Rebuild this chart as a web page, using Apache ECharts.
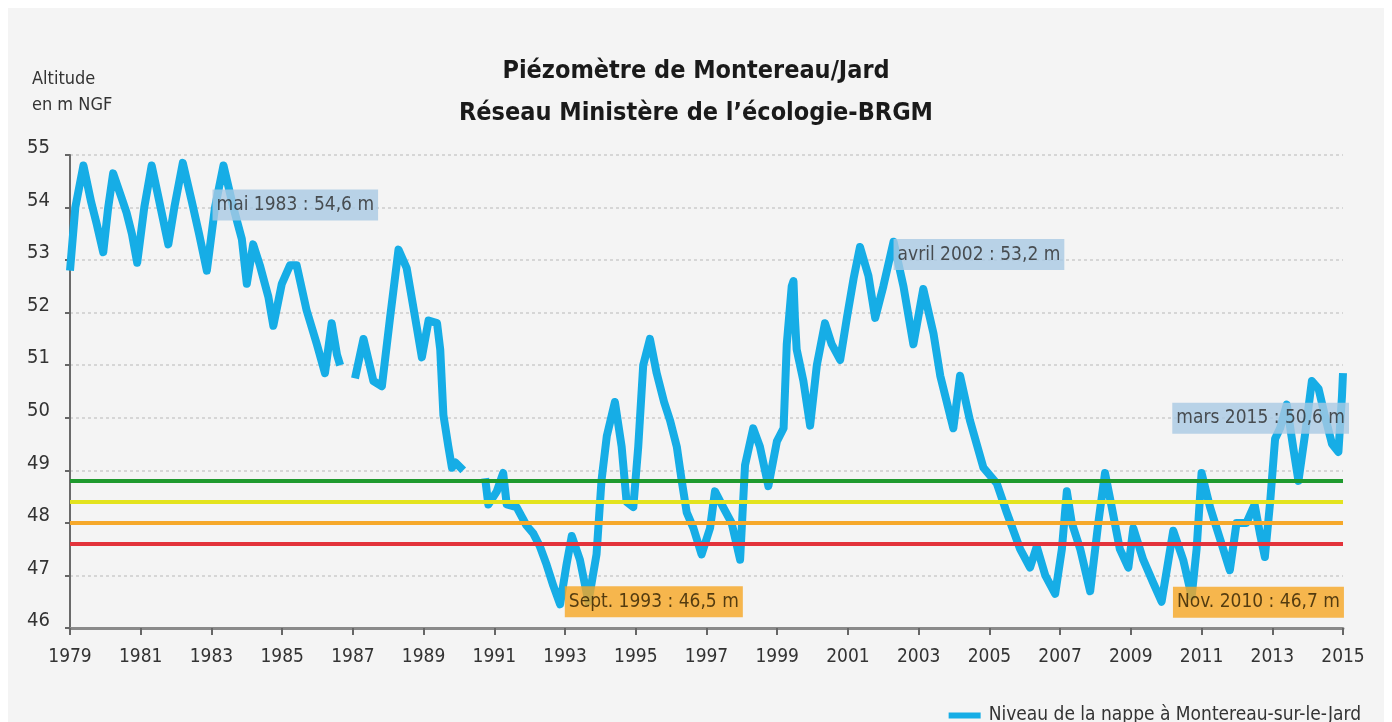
<!DOCTYPE html>
<html>
<head>
<meta charset="utf-8">
<script src="https://cdn.jsdelivr.net/npm/echarts@6/dist/echarts.min.js"></script>
<style>
html,body{margin:0;padding:0;background:#ffffff;}
#chart{width:1392px;height:722px;}
</style>
</head>
<body>
<div id="chart"></div>
<script>
// ---- data ----
const startYear = 1979;
const years = [
1979.0,1979.15,1979.38,1979.6,1979.75,1979.94,1980.08,1980.22,1980.45,1980.6,1980.75,1980.9,
1981.1,1981.31,1981.5,1981.78,1981.95,1982.19,1982.45,1982.65,1982.87,1983.1,1983.34,1983.62,
1983.86,1984.0,1984.18,1984.37,1984.61,1984.75,1984.99,1985.22,1985.41,1985.69,1985.98,1986.21,
1986.4,1986.55,1986.64,1986.8,
1987.06,1987.3,1987.58,1987.82,1988.05,1988.29,1988.52,1988.8,1988.95,1989.14,1989.38,1989.47,
1989.56,1989.7,1989.8,1989.9,1990.12,1990.4,
1990.74,1990.83,1991.07,1991.25,1991.35,1991.63,1991.91,1992.1,1992.29,1992.48,1992.67,1992.86,
1993.04,1993.19,1993.42,1993.66,1993.89,1994.03,1994.18,1994.41,1994.6,1994.74,1994.93,1995.07,
1995.21,1995.4,1995.59,1995.8,1995.97,1996.16,1996.3,1996.44,1996.63,1996.86,1997.1,1997.24,
1997.47,1997.71,1997.95,1998.09,1998.32,1998.51,1998.75,1998.99,1999.18,1999.27,1999.41,1999.46,
1999.5,1999.55,1999.74,1999.93,2000.12,2000.35,2000.54,2000.78,2000.97,2001.16,2001.34,2001.58,
2001.77,2002.0,2002.29,2002.57,2002.85,2003.13,2003.42,2003.61,2003.98,2004.17,2004.45,2004.83,
2005.21,2005.49,2005.87,2006.15,2006.34,2006.58,2006.86,2007.05,2007.19,2007.33,2007.57,2007.85,
2008.08,2008.27,2008.46,2008.69,2008.93,2009.07,2009.35,2009.64,2009.87,2010.2,2010.48,2010.72,
2010.86,2011.0,2011.24,2011.52,2011.8,2011.99,2012.27,2012.5,2012.65,2012.79,2012.94,2013.08,
2013.22,2013.41,2013.6,2013.74,2013.93,2014.12,2014.31,2014.5,2014.69,2014.87,2014.97,2015.0
];
const levels = [
52.8,54.0,54.8,54.1,53.7,53.15,54.0,54.65,54.2,53.9,53.5,52.95,
54.0,54.8,54.2,53.3,54.0,54.85,54.1,53.5,52.8,54.0,54.8,54.0,
53.4,52.55,53.3,52.9,52.3,51.75,52.55,52.9,52.9,52.05,51.4,50.85,
51.8,51.2,51.0,null,
50.75,51.5,50.7,50.6,51.9,53.2,52.85,51.75,51.15,51.85,51.8,51.3,
50.05,49.45,49.05,49.15,49.0,null,
48.85,48.35,48.6,48.95,48.35,48.3,47.95,47.8,47.55,47.2,46.8,46.45,
47.2,47.75,47.3,46.5,47.4,48.8,49.65,50.3,49.45,48.4,48.3,49.45,
51.0,51.5,50.85,50.3,49.95,49.45,48.8,48.2,47.9,47.4,47.9,48.6,
48.3,48.0,47.3,49.1,49.8,49.45,48.7,49.55,49.8,51.4,52.5,52.6,
51.9,51.3,50.7,49.85,51.0,51.8,51.4,51.1,51.9,52.65,53.25,52.7,
51.9,52.5,53.35,52.5,51.4,52.45,51.6,50.8,49.8,50.8,49.95,49.05,
48.75,48.2,47.5,47.15,47.55,47.0,46.65,47.5,48.6,48.0,47.5,46.7,
48.0,48.95,48.3,47.5,47.15,47.9,47.3,46.85,46.5,47.85,47.3,46.6,
47.5,48.95,48.3,47.7,47.1,48.0,48.0,48.35,47.8,47.35,48.4,49.6,
49.8,50.25,49.4,48.8,49.7,50.7,50.55,50.0,49.5,49.35,50.4,50.85
];
const thresholds = [48.8, 48.4, 48.0, 47.6];
const annotTexts = ['mai 1983 : 54,6 m', 'avril 2002 : 53,2 m', 'mars 2015 : 50,6 m', 'Sept. 1993 : 46,5 m', 'Nov. 2010 : 46,7 m'];
const annotYears = [1983.37, 2002.29, 2015.17, 1993.7, 2010.87];
const annotValues = [54.6, 53.2, 50.6, 46.5, 46.7];
const yTickMin = 46, yTickMax = 55, yStep = 1;
const xSpanYears = 36, xStep = 2;
const seriesName = 'Niveau de la nappe à Montereau-sur-le-Jard';
const titleText = 'Piézomètre de Montereau/Jard\nRéseau Ministère de l\u2019écologie-BRGM';
const yAxisTitle = 'Altitude\nen m NGF';

// ---- styles ----
const FONT = '"Liberation Sans Narrow", "DejaVu Sans Condensed", "Liberation Sans", sans-serif';
const BLUE = '#16ade6';
const thresholdColors = ['#1f9a2e', '#e3e31e', '#f6a82a', '#e3333b'];
const annotStyles = [
  {position:'right', offset:[-12, 29], bg:'#a9c9e3', color:'#2b2b2b'},
  {position:'right', offset:[0, 5], bg:'#a9c9e3', color:'#2b2b2b'},
  {position:'left', offset:[0, 32], bg:'#a9c9e3', color:'#2b2b2b'},
  {position:'right', offset:[-25, 0], bg:'#f6a623', color:'#2b1d00'},
  {position:'right', offset:[-24, 11], bg:'#f6a623', color:'#2b1d00'}
];

const lineData = years.map((y, i) => [y - startYear, levels[i]]);
const annotData = annotTexts.map((t, i) => ({
  value: [annotYears[i] - startYear, annotValues[i]],
  label: {
    show: true, formatter: t, position: annotStyles[i].position, distance: 0,
    offset: annotStyles[i].offset, backgroundColor: annotStyles[i].bg,
    color: annotStyles[i].color, fontFamily: FONT, fontSize: 19, lineHeight: 23,
    padding: [4, 4, 4, 4]
  }
}));

const chart = echarts.init(document.getElementById('chart'), null, {renderer: 'canvas'});
chart.setOption({
  animation: false,
  backgroundColor: '#ffffff',
  graphic: [
    {type:'rect', left: 8, top: 8, shape:{width:1376, height:714}, style:{fill:'#f4f4f4'}, z: -10, silent: true},
    {type:'text', left: 32, top: 66, style:{text: yAxisTitle, fill:'#333', font: '18px ' + FONT, lineHeight: 26}, z: 5}
  ],
  title: {
    text: titleText, left: 'center', top: 45,
    textStyle: {fontFamily: FONT, fontWeight: 'bold', fontSize: 25, lineHeight: 42, color: '#1a1a1a'}
  },
  legend: {
    data: [seriesName], right: 26, top: 701, icon: 'rect', itemWidth: 32, itemHeight: 6, itemGap: 10,
    textStyle: {fontFamily: FONT, fontSize: 19, color: '#333', padding: [0,0,0,3]}
  },
  grid: {left: 70, right: 49, top: 155, bottom: 94, containLabel: false},
  xAxis: {
    type: 'value', min: 0, max: xSpanYears, interval: xStep,
    axisLine: {show: true, lineStyle: {color: '#8a8a8a', width: 3}},
    axisTick: {show: true, length: 7, lineStyle: {color: '#666', width: 2}},
    axisLabel: {formatter: v => String(v + startYear), fontFamily: FONT, fontSize: 19, color: '#333', margin: 20},
    splitLine: {show: false}
  },
  yAxis: {
    type: 'value', min: yTickMin, max: yTickMax, interval: yStep,
    axisLine: {show: true, lineStyle: {color: '#6a6a6a', width: 2}},
    axisTick: {show: true, length: 5, lineStyle: {color: '#666', width: 2}},
    axisLabel: {fontFamily: FONT, fontSize: 20, color: '#333', margin: 20, verticalAlign: 'bottom', lineHeight: 14},
    splitLine: {show: true, lineStyle: {color: '#cccccc', width: 1.5, type: [3, 3]}}
  },
  series: [
    {
      name: seriesName, type: 'line', data: lineData, showSymbol: false, connectNulls: false,
      lineStyle: {color: BLUE, width: 8, join: 'round'}, itemStyle: {color: BLUE}, z: 2
    },
    {
      type: 'line', data: [], z: 5, silent: true,
      markLine: {
        silent: true, symbol: 'none', label: {show: false}, animation: false,
        data: thresholds.map((v, i) => ({yAxis: v, lineStyle: {color: thresholdColors[i], width: 4, type: 'solid'}}))
      }
    },
    {
      type: 'scatter', data: annotData, symbolSize: 0, z: 10, clip: false, silent: true
    }
  ]
});
</script>
</body>
</html>
